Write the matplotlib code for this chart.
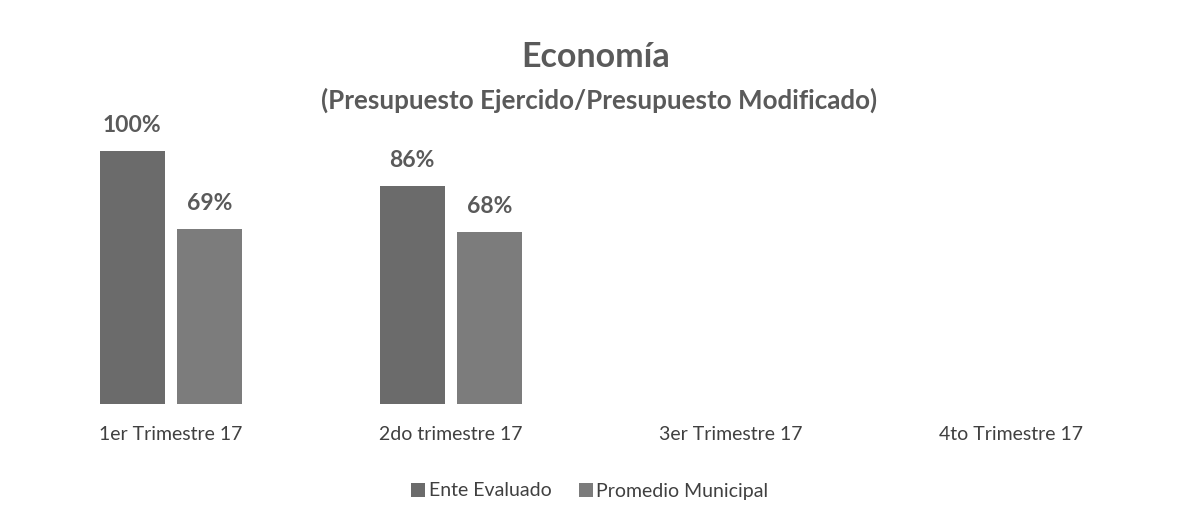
import matplotlib
matplotlib.use("Agg")
import matplotlib.pyplot as plt
import numpy as np

categories = ["1er Trimestre 17", "2do trimestre 17", "3er Trimestre 17", "4to Trimestre 17"]
ente_evaluado = [1.00, 0.86, None, None]
promedio_municipal = [0.69, 0.68, None, None]
series_names = ["Ente Evaluado", "Promedio Municipal"]
colors = ["#6b6b6b", "#7c7c7c"]
text_color = "#5a5a5a"

plt.rcParams['font.family'] = ['Lato', 'DejaVu Sans']

W, H = 1183, 519
fig = plt.figure(figsize=(W / 100, H / 100), dpi=100)
fig.patch.set_facecolor("white")

left_px, right_px = 31, 1151
base_px = 404
unit_px = 253
ymax = 1.2
ax = fig.add_axes([left_px / W, 1 - base_px / H, (right_px - left_px) / W, ymax * unit_px / H])

x = np.arange(len(categories))
bw = 0.232
off = 0.139
for i, (vals, c, name) in enumerate(zip([ente_evaluado, promedio_municipal], colors, series_names)):
    xs = [xi + (i * 2 - 1) * off for xi, v in zip(x, vals) if v is not None]
    vs = [v for v in vals if v is not None]
    ax.bar(xs, vs, width=bw, color=c, label=name)
    for xb, v in zip(xs, vs):
        ax.annotate(f"{v*100:.0f}%", (xb, v), xytext=(0, 11), textcoords="offset points",
                    ha="center", va="bottom", fontsize=16.5, fontweight="bold", color=text_color)

ax.set_xlim(-0.5, len(categories) - 0.5)
ax.set_ylim(0, ymax)
ax.set_xticks(x)
ax.set_xticklabels(categories, fontsize=14, color="#404040")
ax.tick_params(axis="x", length=0, pad=16)
ax.set_yticks([])
for s in ax.spines.values():
    s.set_visible(False)

fig.text(596 / W, 1 - 57 / H, "Economía", ha="center", va="center", fontsize=24.5,
         fontweight="bold", color=text_color)
fig.text(599 / W, 1 - 100 / H, "(Presupuesto Ejercido/Presupuesto Modificado)", ha="center",
         va="center", fontsize=18.7, fontweight="bold", color=text_color)

leg = fig.legend(loc="center", bbox_to_anchor=(590 / W, 1 - 491 / H), ncol=2, frameon=False,
                 fontsize=14, handlelength=0.7, handleheight=0.7, handletextpad=0.2,
                 columnspacing=1.4)
for t in leg.get_texts():
    t.set_color("#404040")

fig.savefig("out.png", dpi=100)
